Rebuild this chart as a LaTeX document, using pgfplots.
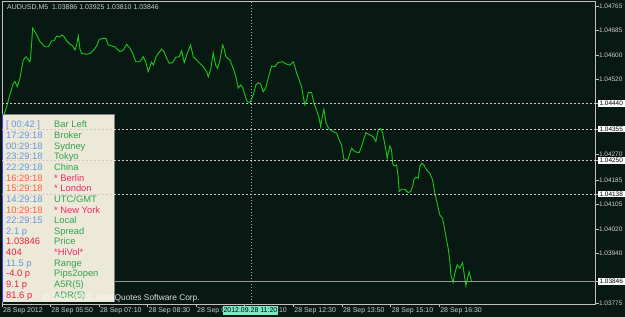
\documentclass[border=0pt]{standalone}
\usepackage{fontspec}
\setmainfont{Liberation Sans}
\usepackage{pgfplots}
\pgfplotsset{compat=1.18}
\definecolor{bg}{RGB}{8,24,19}
\definecolor{axisc}{RGB}{200,190,190}
\definecolor{ticktext}{RGB}{205,205,205}
\definecolor{linegreen}{RGB}{25,200,25}
\definecolor{dashc}{RGB}{215,200,200}
\definecolor{panelbg}{RGB}{236,233,216}
\definecolor{tblue}{RGB}{100,150,225}
\definecolor{lgreen}{RGB}{50,160,80}
\definecolor{ored}{RGB}{255,95,60}
\definecolor{pred}{RGB}{240,40,100}
\definecolor{rred}{RGB}{235,30,60}
\definecolor{aqua}{RGB}{120,235,195}
\definecolor{vline}{RGB}{150,170,195}
\newcommand{\row}[5]{%
  \node[anchor=base west,inner sep=0,text=#2] at (6,#1+3.4) {#3};
  \node[anchor=base west,inner sep=0,text=#4] at (54,#1+3.4) {#5};}
\begin{document}
\begin{tikzpicture}
\fill[bg] (0,0) rectangle (625bp,317bp);
\begin{axis}[
  at={(2bp,13bp)}, anchor=south west,
  width=594bp, height=303bp, scale only axis,
  xmin=2, xmax=596, ymin=1.037717, ymax=1.047817,
  axis line style={axisc, line width=0.8bp},
  tick align=outside, major tick length=3bp,
  tick style={axisc, line width=0.7bp},
  xtick pos=left, ytick pos=right,
  xtick={2,50.3,98.9,147.5,196.1,244.7,293.3,342,390.7,439.3},
  xticklabels={28 Sep 2012,28 Sep 05:50,28 Sep 07:10,28 Sep 08:30,28 Sep 09:50,28 Sep 11:10,28 Sep 12:30,28 Sep 13:50,28 Sep 15:10,28 Sep 16:30},
  x tick label style={anchor=north west, font=\fontsize{7}{8}\selectfont, text=ticktext, xshift=0.5bp, yshift=0bp, inner sep=0.5bp},
  ytick={1.04765,1.04685,1.04600,1.04520,1.04270,1.04185,1.04105,1.04020,1.03940,1.03775},
  yticklabels={1.04765,1.04685,1.04600,1.04520,1.04270,1.04185,1.04105,1.04020,1.03940,1.03775},
  yticklabel pos=right,
  y tick label style={anchor=west, font=\fontsize{6.5}{7}\selectfont, text=ticktext, inner sep=1bp, xshift=-1bp},
  extra y ticks={1.04440,1.04355,1.04250,1.04138,1.03846},
  extra y tick labels={1.04440,1.04355,1.04250,1.04138,1.03846},
  extra y tick style={yticklabel style={fill=white, text=black, inner sep=1bp, minimum width=27bp, align=left, text width=24bp}},
  clip=true,
]
\addplot[linegreen, line width=0.9bp] coordinates {
(3,1.04392) (6.7,1.04429) (9.3,1.04463) (13.3,1.04507) (15,1.04513) (17.3,1.04496)
(20,1.04525) (23.3,1.04585) (26,1.04596) (28.3,1.04587) (30,1.04579) (30.7,1.04596)
(32.7,1.04691) (36.7,1.04668) (40,1.04646) (45,1.04629) (48.3,1.04629) (51.7,1.04649)
(54,1.04649) (56.7,1.04665) (59.3,1.04661) (62,1.04668) (64,1.04663) (66.7,1.04649)
(70,1.04638) (72.7,1.04632) (75,1.04618) (76.7,1.04635) (78.3,1.04665) (80,1.04621)
(81.7,1.04607) (86.7,1.04604) (90,1.04607) (93.3,1.04616) (96.7,1.04632) (99.3,1.04654)
(103.3,1.04657) (106,1.04657) (108.3,1.04635) (111.7,1.04632) (115,1.04629) (117.3,1.04621)
(120,1.04613) (123.3,1.04618) (126.7,1.04637) (130,1.04624) (132.7,1.04607) (136,1.04579)
(140,1.04579) (143.3,1.04596) (145.7,1.04579) (148.3,1.04546) (151.7,1.04578) (153.5,1.04568)
(156,1.04595) (158.3,1.04607) (161.7,1.04621) (164,1.04613) (166.7,1.04591) (169.3,1.04574)
(172.7,1.04576) (176,1.04594) (179.3,1.04596) (181.7,1.04616) (184.3,1.04576) (187.3,1.04607)
(190.7,1.04635) (193.3,1.04596) (198.3,1.04579) (203.3,1.04563) (206.7,1.04546) (208.3,1.04529)
(211,1.04557) (213.3,1.04609) (215.7,1.04568) (217.7,1.04557) (220,1.04585) (222.7,1.04635)
(224,1.04624) (226,1.04596) (230,1.04585) (233.3,1.04557) (236,1.04529) (238.3,1.04491)
(240.7,1.04502) (242.7,1.04494) (245,1.04468) (247.3,1.04446) (250,1.04443) (253.3,1.04468)
(256,1.04502) (258.3,1.04509) (260.7,1.04505) (263.3,1.04479) (266,1.04494) (268.3,1.04524)
(271.7,1.04565) (275,1.04563) (278.3,1.04577) (282.7,1.04579) (286.7,1.04571) (290,1.04568)
(293.3,1.04579) (295,1.04563) (296.7,1.04541) (299.3,1.04518) (301.7,1.04496) (303.3,1.04463)
(305,1.04435) (306.7,1.04452) (308.3,1.04476) (311.7,1.04476) (314,1.04441) (316.7,1.04418)
(319.3,1.04391) (320.7,1.04363) (322.7,1.04402) (324,1.04421) (326,1.04376) (329.3,1.04354)
(333.3,1.04346) (336.7,1.04341) (339.3,1.04318) (341.7,1.04302) (344,1.04254) (348.3,1.04254)
(350,1.04274) (351.7,1.04291) (355,1.04279) (359.3,1.04276) (362.7,1.04307) (366,1.04343)
(370,1.04335) (373.3,1.04329) (376,1.04313) (378.3,1.04352) (380.7,1.04357) (382.7,1.04343)
(385,1.04302) (386,1.04285) (387.3,1.04257) (388.7,1.04279) (390,1.04298) (391.7,1.04285)
(392.7,1.04241) (394,1.04232) (396.7,1.04235) (398.3,1.04196) (399.3,1.04146) (401.7,1.04154)
(405,1.04154) (408.3,1.04143) (410.7,1.04146) (412.7,1.04163) (414,1.04187) (416,1.04194)
(418.3,1.04191) (420,1.04229) (421.7,1.04241) (424,1.04235) (426.7,1.04218) (430,1.04207)
(432.7,1.04185) (435,1.04141) (437.3,1.04107) (440,1.04068) (442.7,1.04057) (444.3,1.04029)
(446.7,1.03985) (448.3,1.03957) (450,1.03913) (451,1.03868) (453.3,1.03843) (455,1.03874)
(457.3,1.03902) (460,1.03891) (462.7,1.03909) (464,1.03879) (466,1.03832) (467.3,1.03852)
(469.3,1.03879) (471.7,1.03846)
};
\end{axis}
\begin{scope}[shift={(0bp,317bp)}, x=1bp, y=-1bp]
  % bid line
  \draw[gray!80, line width=0.7bp] (2,281.7) -- (596,281.7);
  % vertical line
  \draw[vline, line width=0.8bp, dash pattern=on 1bp off 2bp] (251,2) -- (251,303);
  % info panel
  \fill[panelbg] (2,114) rectangle (114,302);
  \draw[gray, line width=0.7bp] (2,114) -- (114,114) -- (114,302);
  \draw[blue!75, line width=1bp] (2.5,114) -- (2.5,302);
  % dashed levels
  \foreach \yy in {103.5,129,160.5,194.1}
    \draw[dashc, line width=0.7bp, dash pattern=on 2.5bp off 1.5bp] (2,\yy) -- (596,\yy);
  % panel text
  \begin{scope}[font=\fontsize{9.4}{10}\selectfont]
  \row{124.5}{tblue}{[ 00:42 ]}{lgreen}{Bar Left}
  \row{135.1}{tblue}{17:29:18}{lgreen}{Broker}
  \row{145.8}{tblue}{00:29:18}{lgreen}{Sydney}
  \row{156.4}{tblue}{23:29:18}{lgreen}{Tokyo}
  \row{167.1}{tblue}{22:29:18}{lgreen}{China}
  \row{177.7}{ored}{16:29:18}{pred}{* Berlin}
  \row{188.4}{ored}{15:29:18}{pred}{* London}
  \row{199}{tblue}{14:29:18}{lgreen}{UTC/GMT}
  \row{209.7}{ored}{10:29:18}{pred}{* New York}
  \row{220.3}{tblue}{22:29:15}{lgreen}{Local}
  \row{231}{tblue}{2.1 p}{lgreen}{Spread}
  \row{241.6}{rred}{1.03846}{lgreen}{Price}
  \row{252.3}{rred}{404}{pred}{*HiVol*}
  \row{262.9}{tblue}{11.5 p}{lgreen}{Range}
  \row{273.6}{rred}{-4.0 p}{lgreen}{Pips2open}
  \row{284.2}{rred}{9.1 p}{lgreen}{A5R(5)}
  \row{294.9}{rred}{81.6 p}{lgreen}{ADR(5)}
  \end{scope}
  % copyright
  \node[anchor=base east, inner sep=0, text=white, opacity=0.85, font=\fontsize{8.4}{9}\selectfont] at (200,301) {© 2001-2012, MetaQuotes Software Corp.};
  % symbol header
  \node[anchor=base west, inner sep=0, text=ticktext, font=\fontsize{7}{8}\selectfont] at (7,9.5) {AUDUSD,M5\ \ 1.03886 1.03925 1.03810 1.03846};
  % highlighted time label
  \node[fill=aqua, text=black, inner sep=1bp, font=\fontsize{7}{8}\selectfont, minimum height=9bp] at (250.5,310.5) {2012.09.28 11:20};
\end{scope}
\end{tikzpicture}
\end{document}
